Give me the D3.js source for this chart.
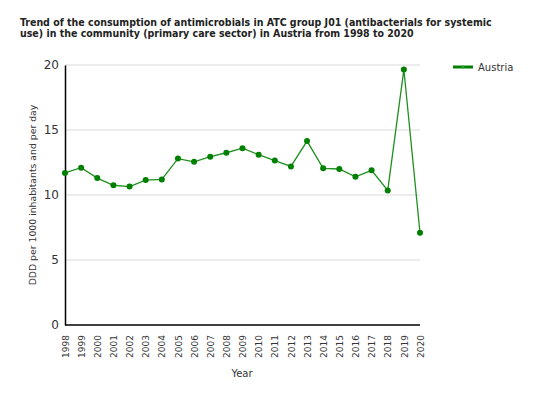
<!doctype html>
<html lang="en">
<head>
<meta charset="utf-8">
<script src="https://d3js.org/d3.v7.min.js"></script>
<style>
  body { margin: 0; background: #fff; }
  text { font-family: "DejaVu Sans", Verdana, sans-serif; }
</style>
</head>
<body>
<svg width="544" height="397"></svg>
<script>

var years = ["1998", "1999", "2000", "2001", "2002", "2003", "2004", "2005", "2006", "2007", "2008",
             "2009", "2010", "2011", "2012", "2013", "2014", "2015", "2016", "2017", "2018", "2019", "2020"];
var austria = [11.7, 12.1, 11.3, 10.75, 10.65, 11.15, 11.2, 12.8, 12.55, 12.95, 13.25,
               13.6, 13.1, 12.65, 12.2, 14.15, 12.05, 12.0, 11.4, 11.9, 10.35, 19.65, 7.1];
var yTicks = [0, 5, 10, 15, 20];

var svg = d3.select("svg"),
    pLeft = 65, pRight = 420, pTop = 65, pBottom = 325;

var x = d3.scalePoint().domain(years).range([pLeft, pRight]);
var y = d3.scaleLinear().domain([0, 20]).range([pBottom, pTop]);

// title, squeezed to the reference's width
var title = svg.append("text")
    .style("font-family", "'DejaVu Sans Condensed', 'Liberation Sans', sans-serif")
    .style("font-size", "11px").style("font-weight", "bold").attr("fill", "#222");
title.append("tspan").attr("x", 20).attr("y", 26)
    .text("Trend of the consumption of antimicrobials in ATC group J01 (antibacterials for systemic");
title.append("tspan").attr("x", 20).attr("y", 37)
    .text("use) in the community (primary care sector) in Austria from 1998 to 2020");
var w = title.select("tspan").node().getComputedTextLength();
if (w > 472) title.style("font-size", (11 * 472 / w) + "px");

// grid
svg.append("g").selectAll("line").data(yTicks.slice(1)).join("line")
    .attr("x1", pLeft).attr("x2", pRight)
    .attr("y1", d => y(d)).attr("y2", d => y(d))
    .attr("stroke", "#d9d9d9");

// y axis
var ya = svg.append("g").attr("transform", "translate(" + pLeft + ",0)")
    .call(d3.axisLeft(y).tickValues(yTicks).tickSize(0).tickPadding(6));
ya.select(".domain").attr("stroke", "#000").attr("stroke-width", 1.5);
ya.selectAll("text").style("font-size", "12px").attr("fill", "#333")
    .style("font-family", "DejaVu Sans, Verdana, sans-serif");

// x axis
var xa = svg.append("g").attr("transform", "translate(0," + pBottom + ")")
    .call(d3.axisBottom(x).tickSize(0).tickPadding(0));
xa.select(".domain").attr("stroke", "#000").attr("stroke-width", 1.5)
    .attr("d", "M" + pLeft + ",0H" + pRight);
xa.selectAll("text").style("font-size", "9px").attr("fill", "#333")
    .style("font-family", "DejaVu Sans, Verdana, sans-serif")
    .attr("transform", "rotate(-90)")
    .attr("text-anchor", "end")
    .attr("x", -10).attr("y", 0).attr("dy", "0.35em");

// axis titles
svg.append("text")
    .attr("transform", "translate(36," + ((pTop + pBottom) / 2) + ") rotate(-90)")
    .attr("text-anchor", "middle")
    .style("font-size", "9.3px").attr("fill", "#333")
    .text("DDD per 1000 inhabitants and per day");
svg.append("text")
    .attr("x", 242).attr("y", 377).attr("text-anchor", "middle")
    .style("font-size", "10px").attr("fill", "#333")
    .text("Year");

// series
var pts = years.map((d, i) => [x(d), y(austria[i])]);
svg.append("path").attr("d", d3.line()(pts))
    .attr("fill", "none").attr("stroke", "#1f8f1f").attr("stroke-width", 1.3);
svg.append("g").selectAll("circle").data(pts).join("circle")
    .attr("cx", d => d[0]).attr("cy", d => d[1]).attr("r", 3)
    .attr("fill", "#008000");

// legend
svg.append("line").attr("x1", 453).attr("x2", 473).attr("y1", 67).attr("y2", 67)
    .attr("stroke", "#008000").attr("stroke-width", 3);
svg.append("circle").attr("cx", 463).attr("cy", 67).attr("r", 1.5).attr("fill", "#2aa02a");
svg.append("text").attr("x", 478).attr("y", 71)
    .style("font-size", "10px").attr("fill", "#333").text("Austria");

</script>
</body>
</html>
